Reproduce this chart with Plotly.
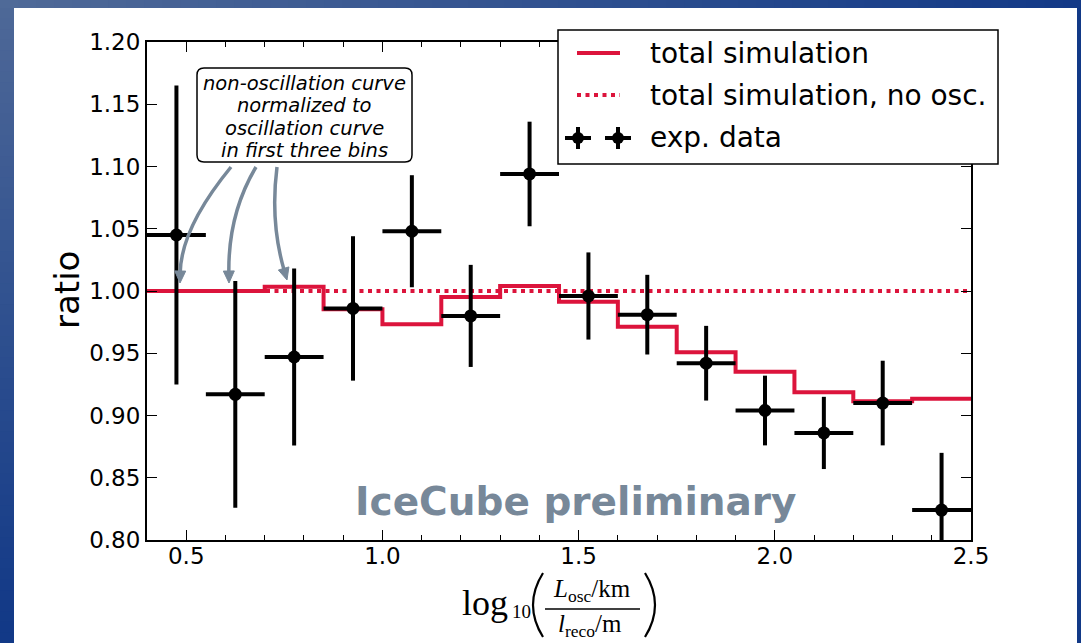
import plotly.graph_objects as go

# ---- binned ratio data -------------------------------------------------
bin_edges = [0.40, 0.55, 0.70, 0.85, 1.00, 1.15, 1.30, 1.45,
             1.60, 1.75, 1.90, 2.05, 2.20, 2.35, 2.50]
bin_centers = [0.475, 0.625, 0.775, 0.925, 1.075, 1.225, 1.375,
               1.525, 1.675, 1.825, 1.975, 2.125, 2.275, 2.425]
sim_ratio = [1.000, 1.000, 1.0035, 0.9853, 0.9733, 0.9952, 1.0040,
             0.9914, 0.9713, 0.9508, 0.9352, 0.9186, 0.9114, 0.9135]
noosc_ratio = [1.000, 1.000, 1.000, 1.000, 1.000, 1.000, 1.000,
               1.000, 1.000, 1.000, 1.000, 1.000, 1.000, 1.000]
data_ratio = [1.045, 0.917, 0.947, 0.986, 1.048, 0.980, 1.094,
              0.996, 0.981, 0.942, 0.904, 0.886, 0.910, 0.824]
data_err = [0.120, 0.091, 0.071, 0.058, 0.045, 0.041, 0.042,
            0.035, 0.032, 0.030, 0.028, 0.029, 0.034, 0.046]

x_ticks = [0.5, 1.0, 1.5, 2.0, 2.5]
x_ticktext = ["0.5", "1.0", "1.5", "2.0", "2.5"]

bin_halfwidth = [(b - a) / 2 for a, b in zip(bin_edges[:-1], bin_edges[1:])]

# ---- canvas geometry (pixels) -----------------------------------------
W, H = 1081, 643
L, R, T, B = 147, 971, 42, 540

RED = "#dc143c"
GREY = "#778899"
FONT = "DejaVu Sans"
SERIF = "Liberation Serif"


def px(x):
    return (x - L) / (R - L)


def py(y):
    return (B - y) / (B - T)


fig = go.Figure()

# no-oscillation expectation (dotted), drawn below the oscillation curve
fig.add_trace(go.Scatter(
    x=bin_edges, y=noosc_ratio + [noosc_ratio[-1]], mode="lines",
    line=dict(color=RED, width=4, dash="4px,4.5px", shape="hv"),
    showlegend=False, hoverinfo="skip"))

# oscillation simulation (solid step)
fig.add_trace(go.Scatter(
    x=bin_edges, y=sim_ratio + [sim_ratio[-1]], mode="lines",
    line=dict(color=RED, width=4, shape="hv"),
    showlegend=False, hoverinfo="skip"))

# experimental data with bin-width and statistical error bars
fig.add_trace(go.Scatter(
    x=bin_centers, y=data_ratio, mode="markers",
    marker=dict(color="black", size=13, symbol="circle"),
    error_y=dict(type="data", array=data_err, color="black",
                 thickness=4, width=0),
    error_x=dict(type="data", array=bin_halfwidth, color="black",
                 thickness=4, width=0),
    showlegend=False))

shapes = []
annotations = []


def mix(c0, c1, t):
    t = max(0.0, min(1.0, t))
    return "rgb({},{},{})".format(*[round(a + (b - a) * t) for a, b in zip(c0, c1)])


# blue gradient frame around the white panel
LIGHT = (80, 106, 152)
DARK = (18, 57, 135)
PANEL_L, PANEL_T, PANEL_R = 14, 8, 1077
n = 60
for i in range(n):
    x0 = i * W / n
    x1 = (i + 1) * W / n
    shapes.append(dict(type="rect", xref="paper", yref="paper",
                       x0=px(x0), x1=px(x1 + 1), y0=py(PANEL_T), y1=py(0),
                       fillcolor=mix(LIGHT, DARK, (x0 + x1) / 2 / W),
                       line=dict(width=0), layer="below"))
for i in range(n):
    y0 = PANEL_T + i * (H - PANEL_T) / n
    y1 = PANEL_T + (i + 1) * (H - PANEL_T) / n
    shapes.append(dict(type="rect", xref="paper", yref="paper",
                       x0=px(0), x1=px(PANEL_L), y0=py(y1 + 1), y1=py(y0),
                       fillcolor=mix(LIGHT, DARK, (y0 + y1) / 2 / H + 0.03),
                       line=dict(width=0), layer="below"))
shapes.append(dict(type="rect", xref="paper", yref="paper",
                   x0=px(PANEL_R), x1=px(W), y0=py(H), y1=py(PANEL_T),
                   fillcolor=mix(LIGHT, DARK, 1.0), line=dict(width=0),
                   layer="below"))

# ---- note box with curved arrows --------------------------------------


def rounded_rect(x0, y0, x1, y1, r):
    pts = [
        f"M {px(x0 + r)} {py(y0)}",
        f"L {px(x1 - r)} {py(y0)}",
        f"Q {px(x1)} {py(y0)} {px(x1)} {py(y0 + r)}",
        f"L {px(x1)} {py(y1 - r)}",
        f"Q {px(x1)} {py(y1)} {px(x1 - r)} {py(y1)}",
        f"L {px(x0 + r)} {py(y1)}",
        f"Q {px(x0)} {py(y1)} {px(x0)} {py(y1 - r)}",
        f"L {px(x0)} {py(y0 + r)}",
        f"Q {px(x0)} {py(y0)} {px(x0 + r)} {py(y0)} Z",
    ]
    return " ".join(pts)


shapes.append(dict(type="path", xref="paper", yref="paper",
                   path=rounded_rect(197, 68, 412, 162, 7),
                   fillcolor="white", line=dict(color="black", width=1.5),
                   layer="above"))
note_lines = ["non-oscillation curve", "normalized to",
              "oscillation curve", "in first three bins"]
for k, line in enumerate(note_lines):
    annotations.append(dict(
        x=px(304.5), y=py(83 + 22.6 * k), xref="paper", yref="paper",
        text=f"<i>{line}</i>", showarrow=False, xanchor="center",
        yanchor="middle", font=dict(family=FONT, size=19.5, color="black")))

arrows = [  # start, control, tip (pixels)
    ((231, 167), (181, 228), (180, 283)),
    ((256, 167), (228, 214), (229, 283)),
    ((277, 167), (270, 222), (287, 280)),
]
HEAD_LEN, HEAD_HALF = 12, 5.5
for (sx, sy), (cx, cy), (tx, ty) in arrows:
    dx, dy = tx - cx, ty - cy
    norm = (dx * dx + dy * dy) ** 0.5
    ux, uy = dx / norm, dy / norm
    bx, by = tx - ux * HEAD_LEN, ty - uy * HEAD_LEN
    # shaft ends inside the head so the line cap stays hidden
    ex, ey = tx - ux * (HEAD_LEN - 2), ty - uy * (HEAD_LEN - 2)
    shapes.append(dict(type="path", xref="paper", yref="paper",
                       path=f"M {px(sx)} {py(sy)} Q {px(cx)} {py(cy)} {px(ex)} {py(ey)}",
                       line=dict(color=GREY, width=3.5), layer="above"))
    p1 = (bx - uy * HEAD_HALF, by + ux * HEAD_HALF)
    p2 = (bx + uy * HEAD_HALF, by - ux * HEAD_HALF)
    shapes.append(dict(type="path", xref="paper", yref="paper",
                       path=(f"M {px(tx)} {py(ty)} L {px(p1[0])} {py(p1[1])} "
                             f"L {px(p2[0])} {py(p2[1])} Z"),
                       fillcolor=GREY, line=dict(color=GREY, width=1),
                       layer="above"))

# ---- legend -------------------------------------------------------------
shapes.append(dict(type="rect", xref="paper", yref="paper",
                   x0=px(558), x1=px(998), y0=py(164), y1=py(30),
                   fillcolor="white", line=dict(color="black", width=1.5),
                   layer="above"))
shapes.append(dict(type="line", xref="paper", yref="paper",
                   x0=px(577), x1=px(620), y0=py(53), y1=py(53),
                   line=dict(color=RED, width=4), layer="above"))
shapes.append(dict(type="line", xref="paper", yref="paper",
                   x0=px(577), x1=px(620), y0=py(95), y1=py(95),
                   line=dict(color=RED, width=4, dash="4px,4.5px"),
                   layer="above"))
for cxp in (578, 618):
    shapes.append(dict(type="line", xref="paper", yref="paper",
                       x0=px(cxp - 13), x1=px(cxp + 13), y0=py(138), y1=py(138),
                       line=dict(color="black", width=4), layer="above"))
    shapes.append(dict(type="line", xref="paper", yref="paper",
                       x0=px(cxp), x1=px(cxp), y0=py(127), y1=py(149),
                       line=dict(color="black", width=4), layer="above"))
    shapes.append(dict(type="circle", xref="paper", yref="paper",
                       x0=px(cxp - 6), x1=px(cxp + 6), y0=py(144), y1=py(132),
                       fillcolor="black", line=dict(width=0), layer="above"))
for label, yy in (("total simulation", 53),
                  ("total simulation, no osc.", 95),
                  ("exp. data", 138)):
    annotations.append(dict(
        x=px(648), y=py(yy), xref="paper", yref="paper", text=label,
        showarrow=False, xanchor="left", yanchor="middle",
        font=dict(family=FONT, size=28, color="black")))

# ---- watermark ------------------------------------------------------------
annotations.append(dict(
    x=px(576), y=py(502), xref="paper", yref="paper",
    text="<b>IceCube preliminary</b>", showarrow=False,
    xanchor="center", yanchor="middle",
    font=dict(family=FONT, size=39, color=GREY)))

# ---- axis titles ------------------------------------------------------------
annotations.append(dict(
    x=px(67), y=py(290), xref="paper", yref="paper", text="ratio",
    textangle=-90, showarrow=False, xanchor="center", yanchor="middle",
    font=dict(family=FONT, size=34, color="black")))

annotations.append(dict(
    x=px(485), y=py(603), xref="paper", yref="paper", text="log",
    showarrow=False, xanchor="center", yanchor="middle",
    font=dict(family=SERIF, size=36, color="black")))
annotations.append(dict(
    x=px(521), y=py(611), xref="paper", yref="paper", text="10",
    showarrow=False, xanchor="center", yanchor="middle",
    font=dict(family=SERIF, size=19, color="black")))
annotations.append(dict(
    x=px(592), y=py(590), xref="paper", yref="paper",
    text="<i>L</i><sub>osc</sub>/km", showarrow=False,
    xanchor="center", yanchor="middle",
    font=dict(family=SERIF, size=25, color="black")))
annotations.append(dict(
    x=px(590), y=py(625), xref="paper", yref="paper",
    text="<i>l</i><sub>reco</sub>/m", showarrow=False,
    xanchor="center", yanchor="middle",
    font=dict(family=SERIF, size=25, color="black")))
shapes.append(dict(type="line", xref="paper", yref="paper",
                   x0=px(545), x1=px(640), y0=py(609), y1=py(609),
                   line=dict(color="black", width=1.6)))
shapes.append(dict(type="path", xref="paper", yref="paper",
                   path=f"M {px(543)} {py(573)} Q {px(523)} {py(605)} {px(543)} {py(637)}",
                   line=dict(color="black", width=2.2)))
shapes.append(dict(type="path", xref="paper", yref="paper",
                   path=f"M {px(645)} {py(573)} Q {px(665)} {py(605)} {px(645)} {py(637)}",
                   line=dict(color="black", width=2.2)))

axis_common = dict(
    showline=True, linecolor="black", linewidth=2, mirror="ticks",
    ticks="inside", ticklen=10, tickwidth=1.2, tickcolor="black",
    showgrid=False, zeroline=False,
    tickfont=dict(family=FONT, size=23, color="black"),
)

fig.update_layout(
    width=W, height=H, autosize=False,
    margin=dict(l=L, r=W - R, t=T, b=H - B, pad=0),
    paper_bgcolor="white", plot_bgcolor="white",
    xaxis=dict(range=[0.4, 2.5], tickvals=x_ticks, ticktext=x_ticktext,
               ticklabelstandoff=-6,
               minor=dict(dtick=0.1, tick0=0.0, ticks="inside", ticklen=5,
                          tickwidth=1.2, tickcolor="black"),
               **axis_common),
    yaxis=dict(range=[0.8, 1.2], dtick=0.05, tick0=0.8, tickformat=".2f",
               **axis_common),
    shapes=shapes, annotations=annotations, showlegend=False,
)

fig.write_html("out.html")
